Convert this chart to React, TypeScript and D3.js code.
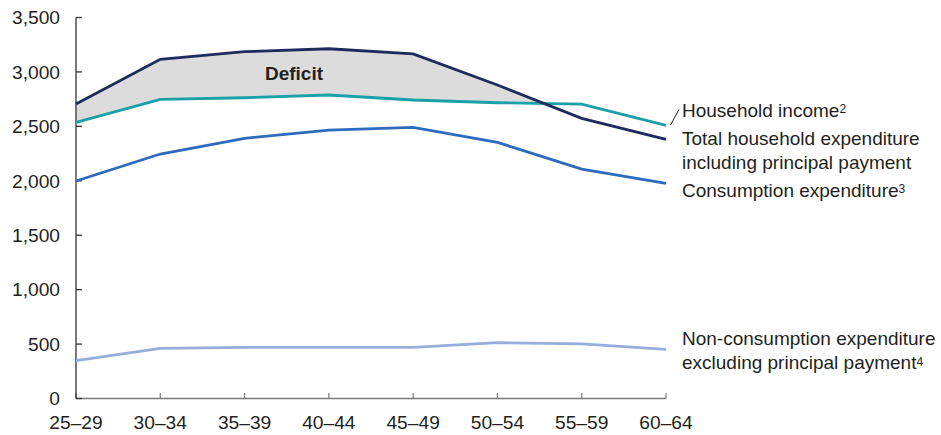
import React from "react";
import * as d3 from "d3";

const categories = ["25–29", "30–34", "35–39", "40–44", "45–49", "50–54", "55–59", "60–64"];
const totalExpenditure = [2705, 3116, 3186, 3213, 3165, 2880, 2574, 2381];
const householdIncome = [2537, 2748, 2763, 2788, 2742, 2717, 2705, 2510];
const consumption = [1998, 2246, 2390, 2466, 2491, 2353, 2108, 1977];
const nonConsumption = [347, 461, 470, 470, 470, 513, 501, 452];
const yTicks = [0, 500, 1000, 1500, 2000, 2500, 3000, 3500];

const W = 941;
const H = 435;
const FONT = "'Liberation Sans', Arial, Helvetica, sans-serif";
const TXT = "#231f20";

export default function App() {
  const x = d3.scalePoint<string>().domain(categories).range([76, 666]);
  const xi = d3.scaleLinear().domain([0, categories.length - 1]).range([76, 666]);
  const y = d3.scaleLinear().domain([0, 3500]).range([398.5, 17.5]);

  const line = d3
    .line<number>()
    .x((_, i) => x(categories[i]) as number)
    .y((d) => y(d));

  // deficit region: where total expenditure exceeds income
  const pts: { t: number; lo: number; hi: number }[] = [];
  for (let i = 0; i < categories.length; i++) {
    const di = totalExpenditure[i] - householdIncome[i];
    pts.push({ t: i, lo: householdIncome[i], hi: Math.max(totalExpenditure[i], householdIncome[i]) });
    if (i < categories.length - 1) {
      const dn = totalExpenditure[i + 1] - householdIncome[i + 1];
      if (di * dn < 0) {
        const f = di / (di - dn);
        const v = householdIncome[i] + f * (householdIncome[i + 1] - householdIncome[i]);
        pts.push({ t: i + f, lo: v, hi: v });
      }
    }
  }
  const area = d3
    .area<{ t: number; lo: number; hi: number }>()
    .x((d) => xi(d.t))
    .y0((d) => y(d.lo))
    .y1((d) => y(d.hi));

  const series = [
    { data: nonConsumption, color: "#95aedb" },
    { data: consumption, color: "#2d6bbd" },
    { data: householdIncome, color: "#1ba0a7" },
    { data: totalExpenditure, color: "#1e2b5e" },
  ];

  const lx = 682;

  return (
    <svg
      width={W}
      height={H}
      style={{ position: "absolute", left: 0, top: 0, background: "#fff" }}
      fontFamily={FONT}
    >
      <path d={area(pts) || ""} fill="#dcdcdc" />
      <text x={294} y={80} textAnchor="middle" fontSize={19} fontWeight="bold" fill={TXT}>
        Deficit
      </text>

      {/* axes */}
      <line x1={76} x2={666} y1={y(0)} y2={y(0)} stroke="#7a7a7a" strokeWidth={1.5} />
      {categories.map((c) => (
        <line key={c} x1={x(c)} x2={x(c)} y1={y(0)} y2={y(0) - 5.5} stroke="#7a7a7a" strokeWidth={1.2} />
      ))}
      <line x1={76} x2={76} y1={y(3500)} y2={y(0)} stroke="#333" strokeWidth={1.3} />
      {yTicks.map((t) => (
        <g key={t}>
          <line x1={76} x2={82} y1={y(t)} y2={y(t)} stroke="#333" strokeWidth={1.3} />
          <text x={60} y={y(t) + 6.8} textAnchor="end" fontSize={19.2} fill={TXT}>
            {d3.format(",")(t)}
          </text>
        </g>
      ))}
      {categories.map((c) => (
        <text key={c} x={x(c)} y={429} textAnchor="middle" fontSize={19.2} fill={TXT}>
          {c}
        </text>
      ))}

      {series.map((s, i) => (
        <path key={i} d={line(s.data) || ""} fill="none" stroke={s.color} strokeWidth={2.8} />
      ))}

      {/* labels */}
      <line x1={670.5} y1={125} x2={679} y2={109.5} stroke={TXT} strokeWidth={1} />
      <g fontSize={19} fill={TXT}>
        <text x={lx} y={116.5}>
          Household income<tspan dy={-3.5} fontSize={12}>2</tspan>
        </text>
        <text x={lx} y={145}>Total household expenditure</text>
        <text x={lx} y={169}>including principal payment</text>
        <text x={lx} y={196.5}>
          Consumption expenditure<tspan dy={-3.5} fontSize={12}>3</tspan>
        </text>
        <text x={lx} y={345}>Non-consumption expenditure</text>
        <text x={lx} y={369}>
          excluding principal payment<tspan dy={-3.5} fontSize={12}>4</tspan>
        </text>
      </g>
    </svg>
  );
}
